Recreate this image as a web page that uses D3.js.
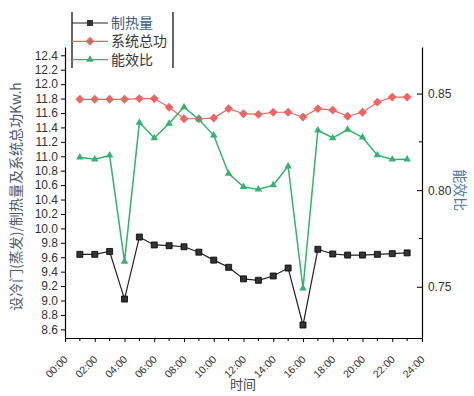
<!DOCTYPE html>
<html>
<head>
<meta charset="utf-8">
<script src="https://cdn.jsdelivr.net/npm/d3@7"></script>
<style>
  body { margin: 0; background: #fff; }
  svg { display: block; font-family: 'Liberation Sans', Arial, sans-serif; }
</style>
</head>
<body>
<svg id="chart" width="474" height="396"></svg>
<script>
// hourly readings, 01:00 .. 23:00
let hours = [1, 2, 3, 4, 5, 6, 7, 8, 9, 10, 11, 12, 13, 14, 15, 16, 17, 18, 19, 20, 21, 22, 23];
let heatValues = [9.64, 9.64, 9.68, 9.02, 9.88, 9.77, 9.76, 9.745, 9.67, 9.56, 9.46, 9.30, 9.28,
                  9.34, 9.45, 8.66, 9.71, 9.645, 9.63, 9.63, 9.64, 9.65, 9.66];
let powerValues = [11.79, 11.79, 11.79, 11.79, 11.80, 11.80, 11.68, 11.52, 11.52, 11.53, 11.66, 11.59, 11.58,
                   11.61, 11.61, 11.545, 11.66, 11.64, 11.555, 11.61, 11.75, 11.82, 11.82];
let copValues = [0.817, 0.816, 0.818, 0.763, 0.835, 0.827, 0.8345, 0.843, 0.8366, 0.8284, 0.8086, 0.8017, 0.8004,
                 0.8026, 0.8124, 0.7492, 0.831, 0.827, 0.8314, 0.8273, 0.8181, 0.8159, 0.816];

let timeTicks = [0, 2, 4, 6, 8, 10, 12, 14, 16, 18, 20, 22, 24];
let timeLabels = ['00:00', '02:00', '04:00', '06:00', '08:00', '10:00', '12:00',
                  '14:00', '16:00', '18:00', '20:00', '22:00', '24:00'];
let leftTicks = [8.6, 8.8, 9.0, 9.2, 9.4, 9.6, 9.8, 10.0, 10.2, 10.4, 10.6, 10.8,
                 11.0, 11.2, 11.4, 11.6, 11.8, 12.0, 12.2, 12.4];
let rightTicks = [0.75, 0.80, 0.85];
let rightMinorTicks = [0.775, 0.825];
let seriesNames = ['制热量', '系统总功', '能效比'];

(function() {

  let svg = d3.select('#chart');

  let plotLeft = 65, plotRight = 422,
      plotTop = 47, plotBottom = 338;

  let xScale = d3.scaleLinear()
    .domain([0, 24])
    .range([plotLeft, plotRight]);
  let yLeft = d3.scaleLinear()
    .domain([8.48, 12.515])
    .range([plotBottom, plotTop]);
  let yRight = d3.scaleLinear()
    .domain([0.7235, 0.8741])
    .range([plotBottom, plotTop]);

  let colors = { heat: '#222', power: '#f06464', cop: '#33b36e' };

  // x axis
  let xAxis = svg.append('g')
    .attr('transform', `translate(0, ${plotBottom})`)
    .call(d3.axisBottom(xScale).tickValues(timeTicks).tickSize(4).tickSizeOuter(0).tickFormat(''));
  xAxis.selectAll('.tick')
    .append('text')
      .attr('fill', '#333')
      .attr('font-size', '10.5px')
      .attr('text-anchor', 'end')
      .attr('transform', 'translate(3, 22) rotate(-45)')
      .text((d, i) => timeLabels[i]);
  svg.append('g')
    .attr('transform', `translate(0, ${plotBottom})`)
    .selectAll('line')
    .data(hours.filter((h) => h % 2 === 1))
    .join('line')
      .attr('x1', (d) => xScale(d)).attr('x2', (d) => xScale(d))
      .attr('y1', 0).attr('y2', 3)
      .attr('stroke', '#000');

  // left axis
  svg.append('g')
    .attr('transform', `translate(${plotLeft}, 0)`)
    .call(d3.axisLeft(yLeft).tickValues(leftTicks).tickSize(4).tickSizeOuter(0).tickFormat(d3.format('.1f')))
    .call((g) => g.selectAll('text').attr('font-size', '12px').attr('fill', '#333'));

  // right axis, ticks pointing inward
  svg.append('g')
    .attr('transform', `translate(${plotRight}, 0)`)
    .call(d3.axisRight(yRight).tickValues(rightTicks).tickSize(-5).tickPadding(6).tickSizeOuter(0).tickFormat(d3.format('.2f')))
    .call((g) => g.selectAll('text').attr('font-size', '12px').attr('fill', '#333'));
  svg.append('g')
    .selectAll('line')
    .data(rightMinorTicks)
    .join('line')
      .attr('x1', plotRight - 3).attr('x2', plotRight)
      .attr('y1', (d) => yRight(d)).attr('y2', (d) => yRight(d))
      .attr('stroke', '#000');

  svg.selectAll('.domain').attr('stroke', '#000').attr('stroke-width', 1.2);

  // axis titles
  svg.append('text')
    .attr('transform', `translate(21, ${(plotTop + plotBottom) / 2 + 4}) rotate(-90)`)
    .attr('text-anchor', 'middle')
    .attr('font-size', '14px')
    .attr('font-family', "'Noto Sans CJK SC', sans-serif")
    .attr('fill', '#4d5a6e')
    .text('设冷门(蒸发)/制热量及系统总功Kw.h');
  svg.append('text')
    .attr('transform', `translate(455, ${yRight(0.80)}) rotate(90)`)
    .attr('text-anchor', 'middle')
    .attr('font-size', '14px')
    .attr('font-family', "'Noto Sans CJK SC', sans-serif")
    .attr('fill', '#4a78a8')
    .text('能效比');
  svg.append('text')
    .attr('x', 243).attr('y', 389)
    .attr('text-anchor', 'middle')
    .attr('font-size', '13px')
    .attr('font-family', "'Noto Sans CJK SC', sans-serif")
    .attr('fill', '#444')
    .text('时间');

  let heatData = hours.map((h, i) => ({ hour: h, value: heatValues[i] }));
  let powerData = hours.map((h, i) => ({ hour: h, value: powerValues[i] }));
  let copData = hours.map((h, i) => ({ hour: h, value: copValues[i] }));

  let lineLeft = d3.line().x((d) => xScale(d.hour)).y((d) => yLeft(d.value));
  let lineRight = d3.line().x((d) => xScale(d.hour)).y((d) => yRight(d.value));

  svg.append('path')
    .datum(powerData)
    .attr('fill', 'none')
    .attr('stroke', colors.power)
    .attr('stroke-width', 1.2)
    .attr('d', lineLeft);
  svg.append('path')
    .datum(copData)
    .attr('fill', 'none')
    .attr('stroke', colors.cop)
    .attr('stroke-width', 1.5)
    .attr('d', lineRight);
  svg.append('path')
    .datum(heatData)
    .attr('fill', 'none')
    .attr('stroke', colors.heat)
    .attr('stroke-width', 1.2)
    .attr('d', lineLeft);

  let squareSym = d3.symbol().type(d3.symbolSquare).size(36);
  let diamondSym = d3.symbol().type(d3.symbolDiamond2).size(50);
  let triangleSym = d3.symbol().type(d3.symbolTriangle2).size(40);

  svg.append('g').selectAll('path')
    .data(powerData)
    .join('path')
      .attr('transform', (d) => `translate(${xScale(d.hour)}, ${yLeft(d.value)})`)
      .attr('d', diamondSym)
      .attr('fill', colors.power);
  svg.append('g').selectAll('path')
    .data(copData)
    .join('path')
      .attr('transform', (d) => `translate(${xScale(d.hour)}, ${yRight(d.value)})`)
      .attr('d', triangleSym)
      .attr('fill', colors.cop);
  svg.append('g').selectAll('path')
    .data(heatData)
    .join('path')
      .attr('transform', (d) => `translate(${xScale(d.hour)}, ${yLeft(d.value)})`)
      .attr('d', squareSym)
      .attr('fill', '#333')
      .attr('stroke', '#000')
      .attr('stroke-width', 0.8);

  // legend: only left and right borders are drawn
  let legend = svg.append('g');
  legend.append('line').attr('x1', 72).attr('x2', 72).attr('y1', 12).attr('y2', 68).attr('stroke', '#000').attr('stroke-width', 1.2);
  legend.append('line').attr('x1', 173).attr('x2', 173).attr('y1', 12).attr('y2', 68).attr('stroke', '#000').attr('stroke-width', 1.2);
  let symbols = [squareSym, diamondSym, triangleSym];
  let legendColors = [colors.heat, colors.power, colors.cop];
  seriesNames.forEach((name, i) => {
    let y = 23 + i * 18.3;
    legend.append('line')
      .attr('x1', 72).attr('x2', 108)
      .attr('y1', y).attr('y2', y)
      .attr('stroke', legendColors[i])
      .attr('stroke-width', 1.2);
    legend.append('path')
      .attr('transform', `translate(90, ${y})`)
      .attr('d', symbols[i])
      .attr('fill', i === 0 ? '#333' : legendColors[i]);
    legend.append('text')
      .attr('x', 111).attr('y', y + 5)
      .attr('font-size', '14px')
      .attr('font-family', "'Noto Sans CJK SC', sans-serif")
      .attr('fill', i === 0 ? '#3d5a80' : '#333')
      .text(name);
  });

})();
</script>
</body>
</html>
